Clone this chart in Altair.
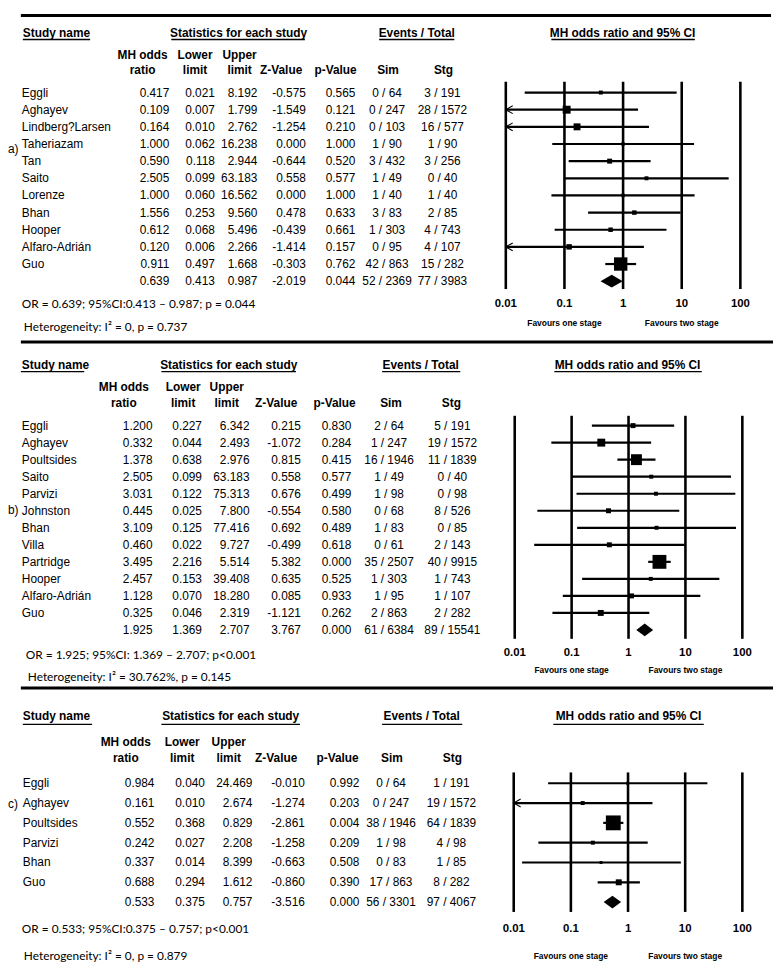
import altair as alt
import pandas as pd

# ---------------- data: panel a ----------------
a_names = ["Eggli", "Aghayev", "Lindberg?Larsen", "Taheriazam", "Tan", "Saito", "Lorenze",
           "Bhan", "Hooper", "Alfaro-Adrián", "Guo"]
a_or = [0.417, 0.109, 0.164, 1.000, 0.590, 2.505, 1.000, 1.556, 0.612, 0.120, 0.911]
a_lo = [0.021, 0.007, 0.010, 0.062, 0.118, 0.099, 0.060, 0.253, 0.068, 0.006, 0.497]
a_hi = [8.192, 1.799, 2.762, 16.238, 2.944, 63.183, 16.562, 9.560, 5.496, 2.266, 1.668]
a_z = [-0.575, -1.549, -1.254, 0.000, -0.644, 0.558, 0.000, 0.478, -0.439, -1.414, -0.303]
a_p = [0.565, 0.121, 0.210, 1.000, 0.520, 0.577, 1.000, 0.633, 0.661, 0.157, 0.762]
a_sim = ["0 / 64", "0 / 247", "0 / 103", "1 / 90", "3 / 432", "1 / 49", "1 / 40", "3 / 83",
         "1 / 303", "0 / 95", "42 / 863"]
a_stg = ["3 / 191", "28 / 1572", "16 / 577", "1 / 90", "3 / 256", "0 / 40", "1 / 40", "2 / 85",
         "4 / 743", "4 / 107", "15 / 282"]
a_weight = [4, 8, 7, 3.5, 5, 4, 3.5, 4.5, 4.5, 5.5, 13.5]
a_pooled = [0.639, 0.413, 0.987, -2.019, 0.044]
a_pooled_ev = ["52 / 2369", "77 / 3983"]
a_or_text = "OR = 0.639; 95%CI:0.413 \u2013 0.987; p = 0.044"
a_het_text = "Heterogeneity: I\u00b2 = 0, p = 0.737"

# ---------------- data: panel b ----------------
b_names = ["Eggli", "Aghayev", "Poultsides", "Saito", "Parvizi", "Johnston", "Bhan", "Villa",
           "Partridge", "Hooper", "Alfaro-Adrián", "Guo"]
b_or = [1.200, 0.332, 1.378, 2.505, 3.031, 0.445, 3.109, 0.460, 3.495, 2.457, 1.128, 0.325]
b_lo = [0.227, 0.044, 0.638, 0.099, 0.122, 0.025, 0.125, 0.022, 2.216, 0.153, 0.070, 0.046]
b_hi = [6.342, 2.493, 2.976, 63.183, 75.313, 7.800, 77.416, 9.727, 5.514, 39.408, 18.280, 2.319]
b_z = [0.215, -1.072, 0.815, 0.558, 0.676, -0.554, 0.692, -0.499, 5.382, 0.635, 0.085, -1.121]
b_p = [0.830, 0.284, 0.415, 0.577, 0.499, 0.580, 0.489, 0.618, 0.000, 0.525, 0.933, 0.262]
b_sim = ["2 / 64", "1 / 247", "16 / 1946", "1 / 49", "1 / 98", "0 / 68", "1 / 83", "0 / 61",
         "35 / 2507", "1 / 303", "1 / 95", "2 / 863"]
b_stg = ["5 / 191", "19 / 1572", "11 / 1839", "0 / 40", "0 / 98", "8 / 526", "0 / 85", "2 / 143",
         "40 / 9915", "1 / 743", "1 / 107", "2 / 282"]
b_weight = [5, 8, 11, 4, 4, 5, 4, 5, 14, 4, 5, 6]
b_pooled = [1.925, 1.369, 2.707, 3.767, 0.000]
b_pooled_ev = ["61 / 6384", "89 / 15541"]
b_or_text = "OR = 1.925; 95%CI: 1.369 \u2013 2.707; p<0.001"
b_het_text = "Heterogeneity: I\u00b2 = 30.762%, p = 0.145"

# ---------------- data: panel c ----------------
c_names = ["Eggli", "Aghayev", "Poultsides", "Parvizi", "Bhan", "Guo"]
c_or = [0.984, 0.161, 0.552, 0.242, 0.337, 0.688]
c_lo = [0.040, 0.010, 0.368, 0.027, 0.014, 0.294]
c_hi = [24.469, 2.674, 0.829, 2.208, 8.399, 1.612]
c_z = [-0.010, -1.274, -2.861, -1.258, -0.663, -0.860]
c_p = [0.992, 0.203, 0.004, 0.209, 0.508, 0.390]
c_sim = ["0 / 64", "0 / 247", "38 / 1946", "1 / 98", "0 / 83", "17 / 863"]
c_stg = ["1 / 191", "19 / 1572", "64 / 1839", "4 / 98", "1 / 85", "8 / 282"]
c_weight = [3, 4, 15, 4, 3, 6]
c_pooled = [0.533, 0.375, 0.757, -3.516, 0.000]
c_pooled_ev = ["56 / 3301", "97 / 4067"]
c_or_text = "OR = 0.533; 95%CI:0.375 \u2013 0.757; p<0.001"
c_het_text = "Heterogeneity: I\u00b2 = 0, p = 0.879"

# ---------------- labels ----------------
group_headers = ["Study name", "Statistics for each study", "Events / Total", "MH odds ratio and 95% CI"]
sub_line1 = {"or": "MH odds", "lo": "Lower", "hi": "Upper"}
sub_line2 = {"or": "ratio", "lo": "limit", "hi": "limit", "z": "Z-Value", "p": "p-Value",
             "sim": "Sim", "stg": "Stg"}
tick_values = [0.01, 0.1, 1, 10, 100]
tick_labels = ["0.01", "0.1", "1", "10", "100"]
favour_values = [0.1, 10]
favour_labels = ["Favours one stage", "Favours two stage"]
panel_tags = ["a)", "b)", "c)"]

# ---------------- layout (reference-pixel units) ----------------
X0, X1 = 8.0, 780.0
Y0, Y1 = 8.0, 972.0
W = int(X1 - X0)
H = 957
KX = W / (X1 - X0)
KY = H / (Y1 - Y0)
TF = "Liberation Sans"
CF = "Lato"

LAYOUT = [
    dict(sep=(9.5, 20, 778), head_y=27, head_x=[22, 240, 420, 628], ul_y=34,
         ul=[(22, 90), (172, 307), (382, 458), (556, 701)],
         sub1_y=50, sub2_y=65, subx={"or": 143, "lo": 196, "hi": 241, "z": 283, "p": 338, "sim": 391, "stg": 447},
         row0=88, rowN=280,
         col={"name": 21, "or": 170, "lo": 216, "hi": 259, "z": 308, "p": 358, "sim": 390, "stg": 446},
         tag=(7, 145), or_xy=(21, 303), het_xy=(23, 327),
         f=(510, 747), grid=(77, 288), tick_y=303, fav_y=323),
    dict(sep=(342, 20, 780), head_y=365, head_x=[21, 230, 424, 633], ul_y=372,
         ul=[(20, 84), (162, 298), (385, 464), (559, 708)],
         sub1_y=388, sub2_y=404, subx={"or": 124, "lo": 184, "hi": 228, "z": 278, "p": 337, "sim": 394, "stg": 455},
         row0=427, rowN=635,
         col={"name": 21, "or": 153, "lo": 203, "hi": 251, "z": 303, "p": 354, "sim": 392, "stg": 456},
         tag=(7, 513), or_xy=(25, 661), het_xy=(27, 683),
         f=(519, 749), grid=(417, 644), tick_y=658, fav_y=676),
    dict(sep=(694, 20, 780), head_y=723, head_x=[22, 232, 425, 634], ul_y=731,
         ul=[(22, 92), (162, 302), (385, 466), (558, 710)],
         sub1_y=749, sub2_y=765, subx={"or": 126, "lo": 183, "hi": 230, "z": 278, "p": 340, "sim": 395, "stg": 456},
         row0=791, rowN=912,
         col={"name": 22, "or": 155, "lo": 206, "hi": 254, "z": 307, "p": 362, "sim": 394, "stg": 455},
         tag=(7, 812), or_xy=(21, 939), het_xy=(23, 967),
         f=(518, 749), grid=(780, 922), tick_y=939, fav_y=967),
]

PANELS = [
    dict(names=a_names, orr=a_or, lo=a_lo, hi=a_hi, z=a_z, p=a_p, sim=a_sim, stg=a_stg, w=a_weight,
         pooled=a_pooled, pev=a_pooled_ev, ortext=a_or_text, het=a_het_text),
    dict(names=b_names, orr=b_or, lo=b_lo, hi=b_hi, z=b_z, p=b_p, sim=b_sim, stg=b_stg, w=b_weight,
         pooled=b_pooled, pev=b_pooled_ev, ortext=b_or_text, het=b_het_text),
    dict(names=c_names, orr=c_or, lo=c_lo, hi=c_hi, z=c_z, p=c_p, sim=c_sim, stg=c_stg, w=c_weight,
         pooled=c_pooled, pev=c_pooled_ev, ortext=c_or_text, het=c_het_text),
]


def cxs():
    return alt.Scale(domain=[X0, X1], range=[0, W], zero=False, nice=False)


def cys():
    return alt.Scale(domain=[Y0, Y1], range=[0, H], zero=False, nice=False)


def rows(n, y0, y1):
    return alt.Scale(domain=[0, n - 1], range=[(y0 - Y0) * KY, (y1 - Y0) * KY], zero=False, nice=False)


def logs(x0, x1):
    return alt.Scale(type="log", domain=[0.01, 100], range=[(x0 - X0) * KX, (x1 - X0) * KX], nice=False)


def canvas_text(df, **kw):
    return alt.Chart(df).mark_text(baseline="middle", color="black", **kw).encode(
        x=alt.X("x:Q", scale=cxs(), axis=None),
        y=alt.Y("y:Q", scale=cys(), axis=None),
        text="t:N")


def canvas_rule(df, **kw):
    return alt.Chart(df).mark_rule(color="black", **kw).encode(
        x=alt.X("x:Q", scale=cxs(), axis=None), x2="x2:Q",
        y=alt.Y("y:Q", scale=cys(), axis=None))


layers = []
for k, (P, L) in enumerate(zip(PANELS, LAYOUT)):
    n = len(P["names"]) + 1
    step = (L["rowN"] - L["row0"]) / (n - 1)
    fmt = lambda v: f"{v:.3f}"

    # separator line
    layers.append(canvas_rule(pd.DataFrame([dict(x=L["sep"][1], x2=L["sep"][2], y=L["sep"][0])]),
                              strokeWidth=3))
    # group headers
    hd = pd.DataFrame(dict(t=group_headers, x=L["head_x"], y=[L["head_y"]] * 4))
    layers.append(canvas_text(hd.iloc[:1], align="left", font=TF, fontSize=12, fontWeight="bold"))
    layers.append(canvas_text(hd.iloc[1:], align="center", font=TF, fontSize=12, fontWeight="bold"))
    # underlines
    layers.append(canvas_rule(pd.DataFrame([dict(x=a, x2=b, y=L["ul_y"]) for a, b in L["ul"]]),
                              strokeWidth=1.3))
    # sub headers
    sh = [dict(t=v, x=L["subx"][key], y=L["sub1_y"]) for key, v in sub_line1.items()]
    sh += [dict(t=v, x=L["subx"][key], y=L["sub2_y"]) for key, v in sub_line2.items()]
    layers.append(canvas_text(pd.DataFrame(sh), align="center", font=TF, fontSize=12, fontWeight="bold"))

    # table body
    rs = lambda: rows(n, L["row0"], L["rowN"])
    name_df = pd.DataFrame(dict(t=P["names"], row=range(n - 1), x=L["col"]["name"]))
    num = []
    cols = {"or": P["orr"], "lo": P["lo"], "hi": P["hi"], "z": P["z"], "p": P["p"]}
    for key, vals in cols.items():
        for i, v in enumerate(vals):
            num.append(dict(t=fmt(v), row=i, x=L["col"][key]))
    for key, v in zip(["or", "lo", "hi", "z", "p"], P["pooled"]):
        num.append(dict(t=fmt(v), row=n - 1, x=L["col"][key]))
    ev = []
    for key, vals, pv in [("sim", P["sim"], P["pev"][0]), ("stg", P["stg"], P["pev"][1])]:
        for i, v in enumerate(list(vals) + [pv]):
            ev.append(dict(t=v, row=i, x=L["col"][key]))
    for df, al in [(name_df, "left"), (pd.DataFrame(num), "right"), (pd.DataFrame(ev), "center")]:
        layers.append(alt.Chart(df).mark_text(baseline="middle", align=al, font=TF, fontSize=12,
                                              color="black").encode(
            x=alt.X("x:Q", scale=cxs(), axis=None),
            y=alt.Y("row:Q", scale=rs(), axis=None),
            text="t:N"))

    # panel tag
    layers.append(canvas_text(pd.DataFrame([dict(t=panel_tags[k], x=L["tag"][0], y=L["tag"][1])]),
                              align="left", font=TF, fontSize=12))
    # summary lines
    layers.append(canvas_text(pd.DataFrame([dict(t=P["ortext"], x=L["or_xy"][0], y=L["or_xy"][1]),
                                            dict(t=P["het"], x=L["het_xy"][0], y=L["het_xy"][1])]),
                              align="left", font=CF, fontSize=12))

    # forest: grid
    ls = lambda: logs(*L["f"])
    g = pd.DataFrame(dict(v=tick_values, y=L["grid"][0], y2=L["grid"][1]))
    layers.append(alt.Chart(g).mark_rule(color="black", strokeWidth=2.6).encode(
        x=alt.X("v:Q", scale=ls(), axis=None),
        y=alt.Y("y:Q", scale=cys(), axis=None), y2="y2:Q"))
    tl = pd.DataFrame(dict(v=tick_values, t=tick_labels, y=L["tick_y"]))
    layers.append(alt.Chart(tl).mark_text(baseline="middle", align="center", font=TF, fontSize=11.5,
                                          fontWeight="bold", color="black").encode(
        x=alt.X("v:Q", scale=ls(), axis=None),
        y=alt.Y("y:Q", scale=cys(), axis=None), text="t:N"))
    fv = pd.DataFrame(dict(v=favour_values, t=favour_labels, y=L["fav_y"]))
    layers.append(alt.Chart(fv).mark_text(baseline="middle", align="center", font=TF, fontSize=8.5,
                                          fontWeight="bold", color="black").encode(
        x=alt.X("v:Q", scale=ls(), axis=None),
        y=alt.Y("y:Q", scale=cys(), axis=None), text="t:N"))

    # forest: CI lines, arrows, squares
    ci = pd.DataFrame(dict(row=range(n - 1), lo=[max(v, 0.01) for v in P["lo"]], hi=P["hi"],
                           orr=P["orr"], s=[w * w for w in P["w"]],
                           cut=[v <= 0.0101 for v in P["lo"]]))
    layers.append(alt.Chart(ci).mark_rule(color="black", strokeWidth=2.2).encode(
        x=alt.X("lo:Q", scale=ls(), axis=None), x2="hi:Q",
        y=alt.Y("row:Q", scale=rs(), axis=None)))
    arr = ci[ci["cut"]]
    if len(arr):
        layers.append(alt.Chart(arr).mark_point(shape="M 1.75 -1 L 0 0 L 1.75 1", filled=False,
                                                size=64, strokeWidth=1.1, color="black",
                                                opacity=1).encode(
            x=alt.X("lo:Q", scale=ls(), axis=None),
            y=alt.Y("row:Q", scale=rs(), axis=None)))
    layers.append(alt.Chart(ci).mark_square(color="black", opacity=1).encode(
        x=alt.X("orr:Q", scale=ls(), axis=None),
        y=alt.Y("row:Q", scale=rs(), axis=None),
        size=alt.Size("s:Q", scale=None)))
    # pooled diamond
    h = 6.5 / step
    r = n - 1
    pe, plo, phi = P["pooled"][0], P["pooled"][1], P["pooled"][2]
    dd = pd.DataFrame(dict(x=[plo, pe, phi], y=[r, r - h, r], y2=[r, r + h, r]))
    layers.append(alt.Chart(dd).mark_area(color="black", interpolate="linear", opacity=1).encode(
        x=alt.X("x:Q", scale=ls(), axis=None),
        y=alt.Y("y:Q", scale=rs(), axis=None), y2="y2:Q"))

chart = alt.layer(*layers).resolve_scale(x="independent", y="independent").properties(
    width=W, height=H, padding=0).configure_view(stroke=None)

chart.save("out.html", embed_options={"renderer": "svg", "actions": False})
